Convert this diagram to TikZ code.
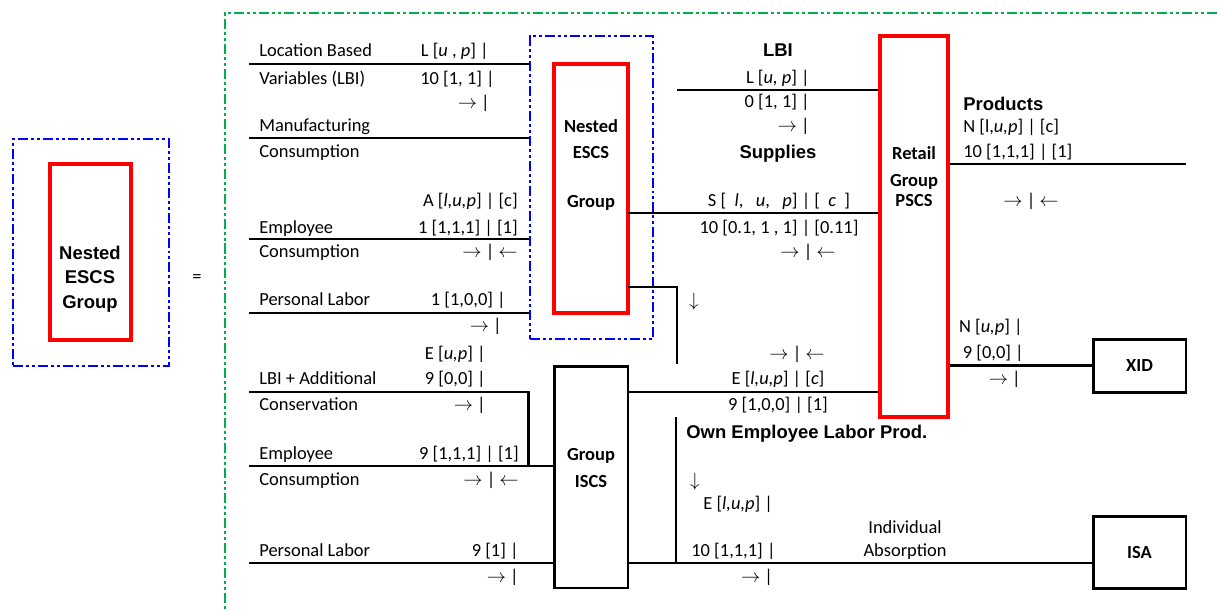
\documentclass[tikz,border=0pt]{standalone}
\usepackage{fontspec}
\setmainfont{Carlito}
\newfontfamily\headfont{Liberation Sans}
\usetikzlibrary{positioning}
\definecolor{escsred}{HTML}{FF0000}
\definecolor{escsblue}{HTML}{0000FF}
\definecolor{escsgreen}{HTML}{00B050}
\begin{document}
\begin{tikzpicture}[x=0.02cm, y=-0.02cm,
  every node/.style={font=\fontsize{10.5}{14.8}\selectfont},
  lbl/.style={inner sep=0pt, text height=1.5ex, text depth=.25ex},
  head/.style={lbl, font=\fontsize{10.5}{14}\selectfont\headfont\bfseries},
  boxlbl/.style={inner sep=0pt, align=center, font=\fontsize{10.5}{14.8}\selectfont\bfseries},
  flow/.style={line width=1.5pt},
  redbox/.style={draw=escsred, line width=2.1pt},
  blkbox/.style={draw, line width=1.7pt, font=\fontsize{10.5}{14.8}\selectfont\bfseries},
  groupline/.style={draw=escsblue, line width=1.4pt,
    dash pattern=on 5.7pt off 1.7pt on 1.7pt off 1.7pt on 1.7pt off 1.7pt},
  frameline/.style={draw=escsgreen, line width=1.1pt,
    dash pattern=on 5.7pt off 1.7pt on 1.7pt off 1.7pt on 1.7pt off 1.7pt}]
\useasboundingbox (0,0) rectangle (1217,610);

% nested group, short form
\node[groupline, minimum width=3.12cm, minimum height=4.54cm] (outerL) at (91,252.5) {};
\node[redbox, minimum width=1.62cm, minimum height=3.52cm] (nescsL) at (90.5,252) {};
\node[boxlbl, font=\fontsize{10.5}{14}\selectfont\headfont\bfseries] at (90,279) {Nested\\ESCS\\Group};
\node[lbl] (eq) at (197,277) {=};

% expanded form
\draw[frameline] (1217,13) -- (225,13) -- (225,610);
\node[groupline, minimum width=2.46cm, minimum height=6.06cm] (outerM) at (591.5,187.5) {};
\node[redbox, minimum width=1.48cm, minimum height=4.98cm] (nescs) at (591,188.5) {};
\node[boxlbl] at (591,165) {Nested\\ESCS\\[13pt]Group};
\node[redbox, minimum width=1.36cm, minimum height=7.62cm] (retail) at (914,226.5) {};
\node[boxlbl] at (914,177) {Retail\\[0.5pt]Group\\[-3.4pt]PSCS};
\node[blkbox, minimum width=1.48cm, minimum height=4.44cm] (iscs) at (591,477) {};
\node[boxlbl] at (591,468) {Group\\ISCS};
\node[blkbox, minimum width=1.86cm, minimum height=1.06cm] (xid) at (1139.5,365.5) {XID};
\node[blkbox, minimum width=1.86cm, minimum height=1.44cm] (isa) at (1139.5,552) {ISA};

% free line ends
\coordinate (lbiIn) at (249,64);
\coordinate (mfgIn) at (249,138);
\coordinate (empIn) at (249,239);
\coordinate (labIn) at (249,313);
\coordinate (consIn) at (249,392);
\coordinate (emp2In) at (249,466);
\coordinate (lab2In) at (249,563);
\coordinate (lbiMid) at (677,90);
\coordinate (supOut) at (628,213);
\coordinate (ownOut) at (628,287);
\coordinate (ownEnd) at (677,364);
\coordinate (ownTop) at (676,417);
\coordinate (empOut) at (628,392);
\coordinate (absOut) at (628,563);
\coordinate (prodOut) at (948,164);
\coordinate (prodEnd) at (1186,164);

\draw[flow] (lbiIn) -- (lbiIn -| outerM.west);
\draw[flow] (mfgIn) -- (mfgIn -| outerM.west);
\draw[flow] (empIn) -- (empIn -| outerM.west);
\draw[flow] (labIn) -- (labIn -| outerM.west);
\draw[flow] (consIn) -- (consIn -| outerM.west) -- (emp2In -| outerM.west);
\draw[flow] (emp2In) -- (emp2In -| iscs.west);
\draw[flow] (lab2In) -- (lab2In -| iscs.west);
\draw[flow] (lbiMid) -- (lbiMid -| retail.west);
\draw[flow] (supOut) -- (supOut -| retail.west);
\draw[flow] (ownOut) -- (ownOut -| ownEnd) -- (ownEnd);
\draw[flow] (empOut) -- (empOut -| retail.west);
\draw[flow] (absOut) -- (absOut -| isa.west);
\draw[flow] (ownTop) -- (ownTop |- absOut);
\draw[flow] (prodOut -| retail.east) -- (prodEnd);
\draw[flow] (retail.east |- xid.west) -- (xid.west);

% left inputs
\node[lbl, anchor=west] at (259,51) {Location Based};
\node[lbl, anchor=west] at (259,79) {Variables (LBI)};
\node[lbl, anchor=west] at (259,126) {Manufacturing};
\node[lbl, anchor=west] at (259,152) {Consumption};
\node[lbl, anchor=west] at (259,228) {Employee};
\node[lbl, anchor=west] at (259,252) {Consumption};
\node[lbl, anchor=west] at (259,300) {Personal Labor};
\node[lbl, anchor=west] at (259,379) {LBI + Additional};
\node[lbl, anchor=west] at (259,405) {Conservation};
\node[lbl, anchor=west] at (259,454) {Employee};
\node[lbl, anchor=west] at (259,480) {Consumption};
\node[lbl, anchor=west] at (259,551) {Personal Labor};

\node[lbl, anchor=east] at (489,51) {L [\textit{u} , \textit{p}] |};
\node[lbl, anchor=east] at (495,79) {10 [1, 1] |};
\node[lbl, anchor=east] at (490,103) {$\rightarrow$ |};
\node[lbl, anchor=east] at (518,201) {A [\textit{l,u,p}] | [c]};
\node[lbl, anchor=east] at (518,228) {1 [1,1,1] | [1]};
\node[lbl, anchor=east] at (518,252) {$\rightarrow$ | $\leftarrow$};
\node[lbl, anchor=east] at (506,300) {1 [1,0,0] |};
\node[lbl, anchor=east] at (502,326) {$\rightarrow$ |};
\node[lbl, anchor=east] at (486,354) {E [\textit{u,p}] |};
\node[lbl, anchor=east] at (486,379) {9 [0,0] |};
\node[lbl, anchor=east] at (486,405) {$\rightarrow$ |};
\node[lbl, anchor=east] at (519,454) {9 [1,1,1] | [1]};
\node[lbl, anchor=east] at (519,480) {$\rightarrow$ | $\leftarrow$};
\node[lbl, anchor=east] at (519,551) {9 [1] |};
\node[lbl, anchor=east] at (519,577) {$\rightarrow$ |};

% middle flows
\node[head] at (778,51) {LBI};
\node[lbl, anchor=east] at (810,78) {L [\textit{u, p}] |};
\node[lbl, anchor=east] at (810,102) {0 [1, 1] |};
\node[lbl, anchor=east] at (810,126) {$\rightarrow$ |};
\node[head] at (778,153) {Supplies};
\node[lbl] at (779,201) {S [ \ \textit{l}, \ \ \textit{u}, \ \ \textit{p}] | [ \ \textit{c} \ ]};
\node[lbl] at (779,228) {10 [0.1, 1 , 1] | [0.11]};
\node[lbl] at (808,252) {$\rightarrow$ | $\leftarrow$};
\node[lbl] at (694,301) {$\downarrow$};
\node[lbl] at (797,354) {$\rightarrow$ | $\leftarrow$};
\node[lbl] at (778,379) {E [\textit{l,u,p}] | [\textit{c}]};
\node[lbl] at (778,405) {9 [1,0,0] | [1]};
\node[head, anchor=west] at (686,433) {Own Employee Labor Prod.};
\node[lbl] at (695,481) {$\downarrow$};
\node[lbl, anchor=west] at (703,504) {E [\textit{l,u,p}] |};
\node[lbl, anchor=west] at (691,551) {10 [1,1,1] |};
\node[lbl] at (757,577) {$\rightarrow$ |};
\node[lbl] at (905,528) {Individual};
\node[lbl] at (905,551) {Absorption};

% outputs
\node[head, anchor=west] at (963,105) {Products};
\node[lbl, anchor=west] at (963,127) {N [l,\textit{u,p}] | [c]};
\node[lbl, anchor=west] at (963,152) {10 [1,1,1] | [1]};
\node[lbl] at (1031,201) {$\rightarrow$ | $\leftarrow$};
\node[lbl, anchor=east] at (1023,327) {N [\textit{u,p}] |};
\node[lbl, anchor=east] at (1024,353) {9 [0,0] |};
\node[lbl, anchor=east] at (1021,379) {$\rightarrow$ |};
\end{tikzpicture}
\end{document}
